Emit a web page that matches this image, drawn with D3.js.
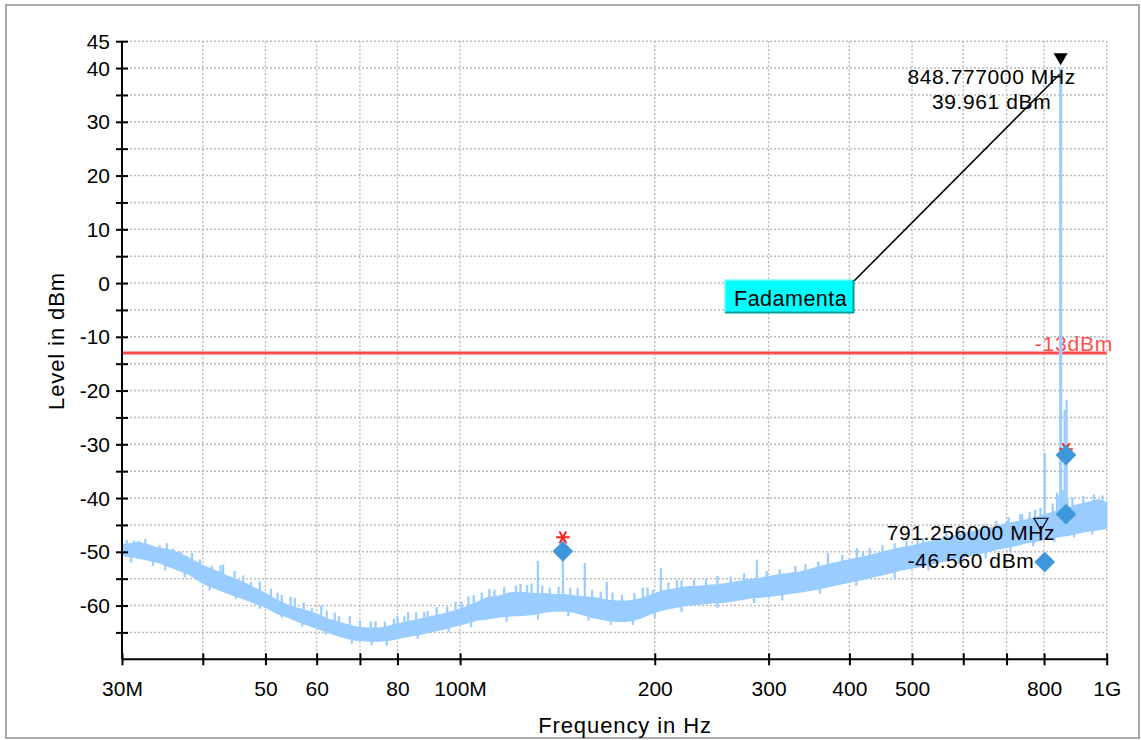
<!DOCTYPE html>
<html><head><meta charset="utf-8">
<script src="https://cdn.jsdelivr.net/npm/d3@7"></script>
<style>
html,body{margin:0;padding:0;background:#fff;}
svg{display:block;font-family:"Liberation Sans",Arial,sans-serif;}
</style></head>
<body><svg id="c" width="1141" height="740"></svg>
<script>
// ---------- data (MHz / dBm) ----------
const freqMHz = [30,32,34,36,38,40,42,44,46,48,50,52,54,56,58,60,63,66,69,72,75,78,81,84,87,90,94,98,102,106,110,115,120,125,130,135,140,145,150,156,162,168,175,182,190,198,206,215,225,235,245,256,268,280,292,305,320,335,350,365,380,400,420,440,460,480,500,525,550,575,600,630,660,690,720,750,780,810,840,870,900,940,970,1000];
const levelHi = [-48.7,-48.3,-49.3,-49.8,-51.1,-52.6,-53.6,-54.7,-55.6,-56.7,-57.8,-59.0,-59.9,-60.5,-61.0,-61.6,-62.7,-63.4,-64.0,-64.2,-64.2,-63.8,-63.3,-62.9,-62.5,-62.1,-61.6,-61.0,-60.3,-59.5,-58.6,-58.2,-57.6,-57.6,-57.8,-57.8,-58.0,-58.0,-58.2,-58.4,-58.6,-59.0,-59.2,-59.2,-58.8,-58.0,-57.3,-56.9,-56.5,-56.4,-56.2,-56.0,-55.6,-55.2,-54.9,-54.5,-54.1,-53.8,-53.2,-52.6,-52.1,-51.5,-51.0,-50.4,-49.8,-49.3,-48.9,-48.3,-47.8,-47.2,-46.7,-46.1,-45.6,-45.0,-44.5,-44.1,-43.6,-43.0,-42.4,-41.9,-41.3,-40.8,-40.3,-40.9];
const levelLo = [-50.6,-51.2,-51.9,-53.0,-54.1,-55.8,-56.9,-57.8,-58.6,-59.5,-60.3,-61.4,-62.1,-62.9,-63.6,-64.2,-65.1,-65.9,-66.4,-66.6,-66.6,-66.4,-66.0,-65.6,-65.3,-64.9,-64.4,-63.8,-63.3,-62.7,-62.5,-62.1,-61.9,-61.8,-61.6,-61.2,-61.0,-61.0,-61.2,-61.8,-62.3,-62.7,-62.9,-62.9,-62.3,-61.4,-60.8,-60.3,-59.9,-59.7,-59.5,-59.4,-59.0,-58.6,-58.4,-58.2,-57.8,-57.5,-57.1,-56.7,-56.2,-55.6,-55.1,-54.5,-54.0,-53.4,-53.0,-52.5,-51.9,-51.5,-51.0,-50.4,-49.8,-49.3,-48.9,-48.3,-48.0,-47.6,-47.2,-46.9,-46.5,-46.1,-45.9,-45.6];

// spurs / noise spikes on top of the floor
const spikeFreq  = [31.3,33.0,34.3,36.0,41.3,42.6,47.5,53.0,54.7,59.0,64.0,72.8,80.0,83.1,89.1,98.4,103,111,127,131.9,137.6,144.2,155.9,168.6,191.7,198.7,204.4,216.4,250,287.7,330,370.6,410.7,420,520,600,700,740,760,802,838,845,855,861,867,870];
const spikeLevel = [-47.9,-48.6,-48.8,-49.4,-52.6,-52.5,-55.6,-58.0,-58.4,-60.5,-61.3,-63.0,-61.9,-61.2,-61.0,-59.3,-58.3,-56.9,-56.2,-51.7,-56.7,-47.6,-52.1,-55.6,-56.7,-57.1,-53.0,-55.2,-54.5,-51.5,-52.6,-50.2,-49.3,-50.0,-47.4,-45.6,-44.2,-43.0,-42.6,-31.6,-39.0,-39.5,-38.5,-23.6,-21.7,-40.0];

// fine noise peaks above and dips below the floor
const jagUpFreq  = [30.5,31.8,32.6,35.2,37.0,38.5,39.6,43.0,44.8,46.2,49.0,51.0,52.2,55.5,57.3,61.0,62.2,65.0,67.5,70.0,74.0,76.5,79.0,82.0,85.5,88.0,92.0,95.5,100.5,105,108,113,117,122,124,129,134,142,148,152,160,165,172,178,186,195,210,220,230,240,262,275,298,312,342,358,390,430,450,470,490,510,540,565,590,615,645,675,705,735,775,790,825,885,920,955,985];
const jagUpLevel = [-47.8,-48.0,-47.6,-48.4,-50.0,-50.2,-51.4,-52.4,-53.6,-54.4,-55.5,-56.8,-57.6,-58.6,-59.4,-60.0,-60.9,-62.0,-62.0,-62.8,-62.9,-63.0,-62.4,-61.9,-61.3,-61.2,-60.3,-60.2,-59.3,-58.1,-57.6,-57.0,-56.6,-56.3,-56.0,-55.9,-56.3,-56.5,-56.7,-56.8,-57.1,-57.4,-57.6,-58.0,-57.7,-56.6,-55.7,-55.3,-55.2,-55.0,-54.6,-54.0,-53.6,-53.2,-52.3,-51.8,-50.6,-49.3,-48.8,-48.4,-48.0,-47.6,-46.9,-46.3,-45.8,-45.3,-44.8,-44.2,-43.5,-43.0,-42.2,-41.8,-41.0,-39.9,-39.6,-39.3,-39.5];
const jagDnFreq  = [31,33.5,35,37.5,41,45,49,53,57,62,68,73,77,86,96,104,118,132,147,158,171,185,200,220,250,285,315,360,410,470,530,590,650,710,770,830,890,950];
const jagDnLevel = [-52.0,-52.6,-53.5,-54.8,-57.2,-58.8,-60.6,-62.3,-63.9,-65.4,-67.1,-67.4,-67.5,-66.2,-65.0,-64.0,-63.0,-62.6,-62.0,-62.8,-63.6,-63.6,-62.2,-61.2,-60.4,-59.5,-59.0,-57.8,-56.3,-55.0,-53.5,-52.3,-51.2,-50.0,-49.0,-48.2,-47.3,-46.8];

// carrier
const carrierFreq = 848.777, carrierLevel = 39.961;
// delta marker
const marker2Freq = 791.256, marker2Level = -46.56;
// limit line
const limitLevel = -13;
// diamond markers
const diamondFreq  = [144.2, 865, 865, 802];
const diamondLevel = [-49.9, -32.0, -43.0, -51.9];
// red asterisks
const starFreq  = [144.2, 865];
const starLevel = [-47.3, -30.9];

// axes
const xTickFreqs  = [30,40,50,60,70,80,100,200,300,400,500,600,700,800,1000];
const xTickLabels = ["30M","","50","60","","80","100M","200","300","400","500","","","800","1G"];
const yTickVals   = [-65,-60,-55,-50,-45,-40,-35,-30,-25,-20,-15,-10,-5,0,5,10,15,20,25,30,35,40,45];
const yLabelVals  = [-60,-50,-40,-30,-20,-10,0,10,20,30,40,45];

// ---------- drawing ----------
const svg = d3.select("#c");
const x = d3.scaleLog().domain([30, 1000]).range([122, 1106.7]);
const y = d3.scaleLinear().domain([-70, 45]).range([659.3, 41.2]);
const X0 = x.range()[0], X1 = x.range()[1], Y0 = y.range()[0], Y1 = y.range()[1];

// outer frame
svg.append("rect").attr("x",6).attr("y",5).attr("width",1133).attr("height",733)
  .attr("fill","#fff").attr("stroke","#a9a9a9").attr("stroke-width",2);

// grid
const grid = svg.append("g").attr("stroke","#b9b9b9").attr("stroke-width",1.4).attr("stroke-dasharray","2,2");
yTickVals.forEach(v => grid.append("line").attr("x1",X0).attr("x2",X1).attr("y1",y(v)).attr("y2",y(v)));
xTickFreqs.slice(1).forEach(f => grid.append("line").attr("x1",x(f)).attr("x2",x(f)).attr("y1",Y1).attr("y2",Y0));

// limit line
svg.append("line").attr("x1",X0).attr("x2",X1).attr("y1",y(limitLevel)).attr("y2",y(limitLevel))
  .attr("stroke","#ff4c4c").attr("stroke-width",3);
svg.append("text").attr("x",1113).attr("y",y(limitLevel)-2).attr("text-anchor","end")
  .attr("fill","#ff4c4c").attr("font-size",21).attr("letter-spacing","0.8px").text(limitLevel+"dBm");

// noise floor band
const floor = freqMHz.map((f,i)=>({f, hi:levelHi[i], lo:levelLo[i]}));
const trace = "#99ccff";
svg.append("path").datum(floor)
  .attr("d", d3.area().x(d=>x(d.f)).y0(d=>y(d.lo)).y1(d=>y(d.hi)))
  .attr("fill",trace).attr("stroke",trace).attr("stroke-width",1.5);

function interp(arr, f){
  const i = d3.bisectLeft(freqMHz, f);
  if (i <= 0) return arr[0];
  if (i >= freqMHz.length) return arr[arr.length-1];
  const t = (Math.log(f)-Math.log(freqMHz[i-1]))/(Math.log(freqMHz[i])-Math.log(freqMHz[i-1]));
  return arr[i-1] + t*(arr[i]-arr[i-1]);
}
const hiAt = f => interp(levelHi, f), loAt = f => interp(levelLo, f);

// fine noise
const gn = svg.append("g").attr("stroke",trace).attr("stroke-width",2.2);
gn.selectAll("line.u").data(jagUpFreq).join("line").attr("class","u")
  .attr("x1",f=>x(f)).attr("x2",f=>x(f))
  .attr("y1",f=>y(hiAt(f))+3).attr("y2",(f,i)=>y(jagUpLevel[i]));
gn.selectAll("line.d").data(jagDnFreq).join("line").attr("class","d")
  .attr("x1",f=>x(f)).attr("x2",f=>x(f))
  .attr("y1",f=>y(loAt(f))-3).attr("y2",(f,i)=>y(jagDnLevel[i]));

// spikes
svg.append("g").selectAll("line").data(spikeFreq).join("line")
  .attr("x1",f=>x(f)).attr("x2",f=>x(f))
  .attr("y1",f=>y(hiAt(f))+2).attr("y2",(f,i)=>y(spikeLevel[i]))
  .attr("stroke",trace).attr("stroke-width",2.2);
// carrier
svg.append("line").attr("x1",x(carrierFreq)).attr("x2",x(carrierFreq))
  .attr("y1",y(hiAt(carrierFreq))+2).attr("y2",y(carrierLevel))
  .attr("stroke",trace).attr("stroke-width",3);

// annotation box + leader
const bx=725, by=280, bw=129, bh=33;
svg.append("line").attr("x1",bx+bw).attr("y1",by+1).attr("x2",x(carrierFreq)-1).attr("y2",y(carrierLevel)+6)
  .attr("stroke","#000").attr("stroke-width",1.6);
svg.append("rect").attr("x",bx).attr("y",by).attr("width",bw).attr("height",bh).attr("fill","#00ffff");
svg.append("path").attr("d",`M${bx},${by+bh}V${by}H${bx+bw}`).attr("fill","none").attr("stroke","#7ff").attr("stroke-width",1.5);
svg.append("path").attr("d",`M${bx},${by+bh-0.5}H${bx+bw-0.5}V${by}`).attr("fill","none").attr("stroke","#00a0a0").attr("stroke-width",2);
svg.append("text").attr("x",bx+9).attr("y",by+26).attr("font-size",21.5).attr("letter-spacing","0.5px").attr("fill","#000").text("Fadamenta");

// red asterisks
svg.append("g").selectAll("path").data(starFreq).join("path")
  .attr("transform",(f,i)=>`translate(${x(f)},${y(starLevel[i])}) rotate(90)`)
  .attr("d", d3.symbol(d3.symbolAsterisk, 130))
  .attr("fill","none").attr("stroke","#ff2020").attr("stroke-width",2);

// diamonds
svg.append("g").selectAll("path").data(diamondFreq).join("path")
  .attr("transform",(f,i)=>`translate(${x(f)},${y(diamondLevel[i])}) rotate(45)`)
  .attr("d", d3.symbol(d3.symbolSquare, 215))
  .attr("fill","#3f97db");

// marker triangles
const tri = d3.symbol(d3.symbolTriangle, 85);
svg.append("path").attr("transform",`translate(${x(carrierFreq)},${y(carrierLevel)-11}) rotate(180)`)
  .attr("d",tri).attr("fill","#000");
svg.append("path").attr("transform",`translate(${x(marker2Freq)},${y(marker2Level)-11}) rotate(180)`)
  .attr("d",tri).attr("fill","none").attr("stroke","#000").attr("stroke-width",1.2);

// marker labels
const fmtF = f => f.toFixed(6)+" MHz", fmtL = v => v.toFixed(3)+" dBm";
function mlabel(f, v, dx, dy1, dy2){
  const g = svg.append("g").attr("font-size",21).attr("letter-spacing","0.6px").attr("text-anchor","middle").attr("fill","#000");
  g.append("text").attr("x",x(f)+dx).attr("y",y(v)+dy1).text(fmtF(f));
  g.append("text").attr("x",x(f)+dx).attr("y",y(v)+dy2).text(fmtL(v));
}
mlabel(carrierFreq, carrierLevel, -69, 16, 41);
mlabel(marker2Freq, marker2Level, -70, 6.5, 34.5);

// axes
const xAxis = d3.axisBottom(x).tickValues(xTickFreqs)
  .tickFormat((d,i)=>xTickLabels[i]).tickSizeInner(6).tickSizeOuter(0);
const gx = svg.append("g").attr("transform",`translate(0,${Y0})`).call(xAxis);
const yAxis = d3.axisLeft(y).tickValues(yTickVals)
  .tickFormat(v => yLabelVals.includes(v) ? String(v) : "").tickSizeInner(6).tickSizeOuter(0);
const gy = svg.append("g").attr("transform",`translate(${X0},0)`).call(yAxis);
[gx,gy].forEach(g=>{
  g.select(".domain").attr("stroke","#000").attr("stroke-width",2);
  g.selectAll(".tick line").attr("stroke","#000").attr("stroke-width",2);
  g.selectAll("text").attr("font-size",21).attr("font-family","'Liberation Sans',Arial,sans-serif").attr("fill","#000");
});
gx.selectAll(".tick line").attr("y1",-6).attr("y2",6);
gx.selectAll(".tick text").attr("y",22).attr("dy","0.71em");
gy.selectAll(".tick line").attr("x1",-6).attr("x2",6);
gy.selectAll(".tick text").attr("x",-12).attr("dy","0.34em");
gy.select(".domain").attr("d",`M0,${Y0}V${Y1}`);
gx.select(".domain").attr("d",`M${X0},0H${X1}`);

// titles
svg.append("text").attr("x",625).attr("y",733).attr("text-anchor","middle")
  .attr("font-size",22).attr("letter-spacing","0.9px").text("Frequency in Hz");
svg.append("text").attr("transform","translate(64,341) rotate(-90)").attr("text-anchor","middle")
  .attr("font-size",22).attr("letter-spacing","0.9px").text("Level in dBm");
</script></body></html>
